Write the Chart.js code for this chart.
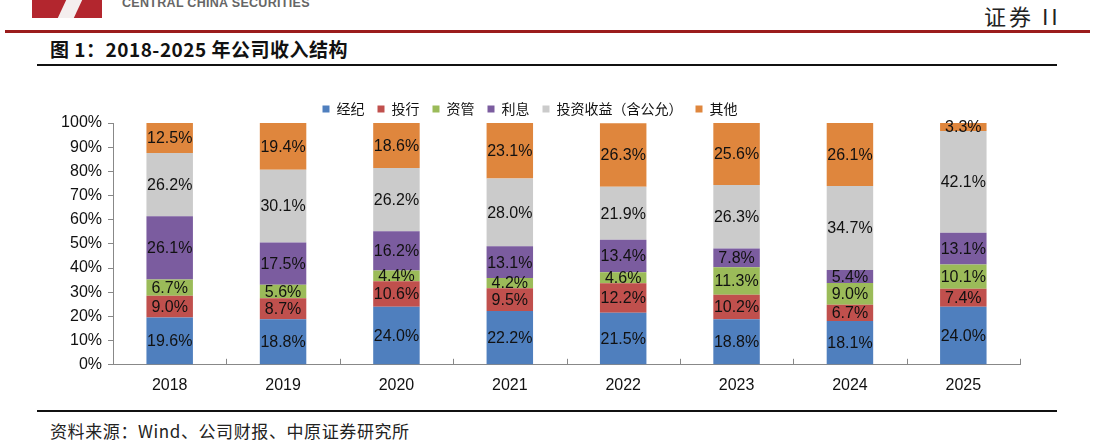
<!DOCTYPE html>
<html lang="zh">
<head>
  <meta charset="UTF-8">
  <title>2018-2025年公司收入结构</title>
  <script src="https://cdn.jsdelivr.net/npm/chart.js"></script>
  <style>
    body {
      margin: 0;
      width: 1094px;
      height: 443px;
      background: #ffffff;
      position: relative;
      overflow: hidden;
      font-family: 'Liberation Sans', 'Noto Sans CJK SC', sans-serif;
    }
    .logo {
      position: absolute;
      left: 32px;
      top: 0;
      width: 70px;
      height: 18px;
      background: #b3262e;
    }
    .logo span {
      position: absolute;
      left: 30px;
      top: 0;
      width: 16px;
      height: 18px;
      background: #f4eeee;
      transform: skewX(-25deg);
    }
    .brand {
      position: absolute;
      left: 122px;
      top: -4px;
      font: bold 12.5px 'Liberation Sans', sans-serif;
      color: #666;
      letter-spacing: 0.3px;
    }
    .tag {
      position: absolute;
      left: 984px;
      top: -1px;
      font: 22px 'Noto Sans CJK SC', sans-serif;
      color: #222;
      letter-spacing: 3px;
    }
    .redline {
      position: absolute;
      left: 5px;
      top: 30px;
      width: 1085px;
      height: 3px;
      background: #9b1c1c;
    }
    .title {
      position: absolute;
      left: 50px;
      top: 35px;
      font: bold 19px 'Noto Sans CJK SC', sans-serif;
      color: #111;
      letter-spacing: 0.5px;
    }
    .rule {
      position: absolute;
      left: 37px;
      width: 1020px;
      height: 2px;
      background: #111;
    }
    .source {
      position: absolute;
      left: 50px;
      top: 418px;
      font: 17px 'Noto Sans CJK SC', sans-serif;
      color: #222;
      letter-spacing: 0.6px;
    }
    #wrap {
      position: absolute;
      left: 40px;
      top: 89px;
      width: 1010px;
      height: 309px;
    }
  </style>
</head>
<body>
  <div class="logo"><span></span></div>
  <div class="brand">CENTRAL CHINA SECURITIES</div>
  <div class="tag">证券 II</div>
  <div class="redline"></div>
  <div class="title">图 1：2018-2025 年公司收入结构</div>
  <div class="rule" style="top:64px"></div>

  <div id="wrap"><canvas id="chart"></canvas></div>

  <div class="rule" style="top:410px"></div>
  <div class="source">资料来源：Wind、公司财报、中原证券研究所</div>

  <script>
  const years = ['2018', '2019', '2020', '2021', '2022', '2023', '2024', '2025'];
  const jingji = [19.6, 18.8, 24.0, 22.2, 21.5, 18.8, 18.1, 24.0];
  const touhang = [9.0, 8.7, 10.6, 9.5, 12.2, 10.2, 6.7, 7.4];
  const ziguan = [6.7, 5.6, 4.4, 4.2, 4.6, 11.3, 9.0, 10.1];
  const lixi = [26.1, 17.5, 16.2, 13.1, 13.4, 7.8, 5.4, 13.1];
  const touzi = [26.2, 30.1, 26.2, 28.0, 21.9, 26.3, 34.7, 42.1];
  const qita = [12.5, 19.4, 18.6, 23.1, 26.3, 25.6, 26.1, 3.3];
  const yTicks = [0, 10, 20, 30, 40, 50, 60, 70, 80, 90, 100];

  const seriesNames = ['经纪', '投行', '资管', '利息', '投资收益（含公允）', '其他'];
  const seriesData = [jingji, touhang, ziguan, lixi, touzi, qita];
  const seriesColors = ['#4f7fbe', '#c0504d', '#9bbb59', '#7b5c9f', '#cbcbcb', '#df863d'];

  // pull the plot area a little closer to the legend
  const tightLegend = {
    id: 'tightLegend',
    beforeInit(chart) {
      const fit = chart.legend.fit;
      chart.legend.fit = function () {
        fit.call(this);
        this.height -= 3;
      };
    }
  };

  // labels in the middle of every segment
  const segLabels = {
    id: 'segLabels',
    afterDatasetsDraw(chart) {
      const ctx = chart.ctx;
      ctx.save();
      ctx.font = '16px "Liberation Sans", Arial, sans-serif';
      ctx.fillStyle = '#111';
      ctx.textAlign = 'center';
      ctx.textBaseline = 'middle';
      chart.data.datasets.forEach((ds, i) => {
        chart.getDatasetMeta(i).data.forEach((bar, j) => {
          const yMid = (bar.y + bar.base) / 2;
          ctx.fillText(ds.data[j].toFixed(1) + '%', bar.x, yMid + 1);
        });
      });
      ctx.restore();
    }
  };

  // small tick marks between categories, pointing up from the axis
  const xTicks = {
    id: 'xTicks',
    afterDraw(chart) {
      const ctx = chart.ctx;
      const x = chart.scales.x;
      const bottom = chart.chartArea.bottom;
      ctx.save();
      ctx.strokeStyle = '#888';
      ctx.lineWidth = 1;
      for (let i = 0; i <= years.length; i++) {
        const px = Math.round(x.getPixelForValue(i - 0.5)) + 0.5;
        ctx.beginPath();
        ctx.moveTo(px, bottom);
        ctx.lineTo(px, bottom - 6);
        ctx.stroke();
      }
      ctx.restore();
    }
  };

  new Chart(document.getElementById('chart'), {
    type: 'bar',
    data: {
      labels: years,
      datasets: seriesData.map((d, i) => ({
        label: seriesNames[i],
        data: d,
        backgroundColor: seriesColors[i],
        borderWidth: 0,
        categoryPercentage: 1,
        barPercentage: 0.41
      }))
    },
    options: {
      responsive: true,
      maintainAspectRatio: false,
      animation: false,
      layout: { padding: { left: 0, right: 30, top: 0, bottom: 0 } },
      plugins: {
        legend: {
          position: 'top',
          labels: {
            boxWidth: 7,
            boxHeight: 7,
            padding: 13,
            color: '#111',
            font: { family: '"Noto Sans CJK SC", sans-serif', size: 14 }
          }
        },
        tooltip: { enabled: false }
      },
      scales: {
        x: {
          stacked: true,
          grid: { display: false },
          border: { color: '#888' },
          ticks: { color: '#111', font: { family: '"Liberation Sans", Arial', size: 16 }, padding: 3 }
        },
        y: {
          stacked: true,
          min: 0,
          max: 100,
          afterBuildTicks(scale) {
            scale.ticks = yTicks.map(v => ({ value: v }));
          },
          afterFit(scale) { scale.width = 73; },
          grid: { drawOnChartArea: false, drawTicks: true, tickLength: 5, color: '#888' },
          border: { color: '#888' },
          ticks: {
            color: '#111',
            padding: 6,
            font: { family: '"Liberation Sans", Arial', size: 16 },
            callback: v => v + '%'
          }
        }
      }
    },
    plugins: [tightLegend, segLabels, xTicks]
  });
  </script>
</body>
</html>
